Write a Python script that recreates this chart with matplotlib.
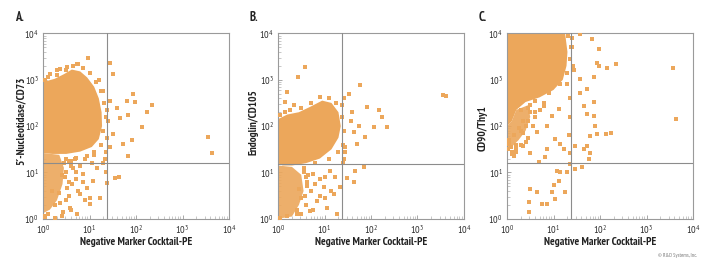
#!/usr/bin/env python3
# flow cytometry dot plots, 3 panels (A, B, C)

import matplotlib
matplotlib.use('Agg')
import matplotlib.pyplot as plt
from matplotlib.patches import Polygon
from matplotlib.ticker import LogLocator, FixedFormatter, NullFormatter
import numpy as np

plt.rcParams['font.family'] = ['PT Sans Narrow', 'DejaVu Sans']
plt.rcParams['mathtext.fontset'] = 'custom'
plt.rcParams['mathtext.rm'] = 'PT Sans Narrow'
plt.rcParams['mathtext.it'] = 'PT Sans Narrow'

dot_color = '#eca75b'
line_color = '#8c8c8c'

panel_titles = ['A.', 'B.', 'C.']
y_labels = ['5\u2032-Nucleotidase/CD73', 'Endoglin/CD105', 'CD90/Thy1']
x_label = 'Negative Marker Cocktail-PE'
tick_labels = ['$10^0$', '$10^1$', '$10^2$', '$10^3$', '$10^4$']
quad_x = [24, 24, 24]
quad_y = [16, 15, 16]

# dense regions (log10 x, log10 y), outlines
a_core = [(0, 2.95), (0.25, 3.02), (0.45, 3.12), (0.62, 3.22), (0.8, 3.18),
          (0.95, 3.05), (1.1, 2.85), (1.2, 2.6), (1.26, 2.3), (1.27, 2.0),
          (1.2, 1.72), (1.05, 1.55), (0.8, 1.45), (0.5, 1.4), (0.2, 1.4), (0, 1.42)]
a_low = [(0, 1.42), (0.35, 1.38), (0.45, 1.1), (0.42, 0.75), (0.3, 0.4),
         (0.15, 0.2), (0, 0.12)]
b_core = [(0, 1.2), (0, 2.15), (0.2, 2.25), (0.45, 2.3), (0.7, 2.42), (0.95, 2.55),
          (1.15, 2.5), (1.3, 2.3), (1.35, 2.0), (1.3, 1.75), (1.15, 1.5),
          (0.9, 1.3), (0.6, 1.2), (0.3, 1.15), (0.1, 1.15)]
b_low = [(0, 1.15), (0.3, 1.12), (0.5, 0.95), (0.55, 0.6), (0.45, 0.3),
         (0.3, 0.05), (0, 0.0)]
c_core = [(0, 4.0), (1.25, 4.0), (1.3, 3.6), (1.28, 3.3), (1.2, 3.0), (1.0, 2.78),
          (0.7, 2.62), (0.4, 2.52), (0.2, 2.35), (0.1, 2.1), (0, 2.0)]
c_low = [(0, 2.0), (0.1, 2.1), (0.2, 2.35), (0.45, 2.45), (0.5, 2.2), (0.4, 1.9),
         (0.25, 1.7), (0.1, 1.55), (0, 1.55)]

# scattered events (log10 x, log10 y)
a_x = [0.97, 1.44, 1.51, 1.94, 2.34, 2.23, 2.12, 1.83, 1.65, 1.91, 1.73, 1.83,
       3.55, 3.63, 1.64, 1.55, 1.37, 1.23, 1.01, 0.73, 0.58, 0.37, 0.04, 1.16,
       0.86, 0.65, 1.08, 0.95, 0.80, 0.52, 1.44, 1.51, 1.44, 1.59, 1.98, 1.81,
       0.73, 0.52, 0.15, 0.37, 1.33, 1.30, 1.36, 1.28, 1.20, 0.60, 0.48, 0.90,
       1.10, 0.70, 0.25, 0.55, 0.42, 1.00, 1.35, 0.30,
       0.10, 0.30, 0.50, 0.65, 0.85, 1.00, 1.15, 1.25, 1.32, 1.35, 1.30, 1.25,
       1.10, 0.95, 0.70, 0.55, 0.45, 0.50, 0.55, 0.35, 0.25, 0.10, 0.20, 0.40,
       1.38, 1.38, 1.40, 0.05, 0.30, 0.75,
       0.50, 0.60, 0.70, 0.62, 0.75, 0.85, 0.90, 0.50, 0.60, 0.40, 0.05, 0.68,
       0.80, 1.05]
a_y = [3.48, 3.37, 3.13, 2.70, 2.46, 2.30, 1.97, 2.23, 2.18, 1.69, 1.61, 1.36,
       1.77, 1.41, 0.91, 0.88, 0.78, 0.45, 0.32, 0.11, 0.24, 0.35, 0.06, 1.10,
       0.97, 1.10, 0.82, 0.67, 0.54, 0.67, 1.54, 1.84, 2.55, 2.40, 2.51, 2.55,
       3.35, 3.27, 3.13, 3.24, 1.30, 1.20, 1.02, 2.75, 3.00, 1.25, 0.90, 1.28,
       1.38, 0.85, 0.02, 0.50, 0.15, 0.45, 1.45, 3.20,
       3.05, 3.10, 3.20, 3.30, 3.25, 3.15, 2.95, 2.75, 2.50, 2.20, 1.90, 1.60,
       1.45, 1.35, 1.32, 1.25, 1.20, 1.00, 0.80, 0.55, 0.30, 0.10, 0.60, 0.95,
       2.35, 1.75, 2.10, 3.00, 3.20, 3.35,
       1.30, 1.15, 1.00, 0.75, 0.60, 0.80, 0.40, 0.40, 0.20, 0.05, 0.03, 1.30,
       1.15, 1.20]
b_x = [0.58, 0.44, 0.19, 0.15, 1.76, 1.52, 3.61, 3.54, 1.92, 2.17, 2.24, 2.35,
       2.06, 1.88, 1.70, 1.56, 1.63, 1.84, 1.66, 1.63, 1.49, 1.34, 1.20, 0.98,
       0.84, 0.69, 1.05, 1.27, 0.76, 1.12, 1.42, 1.38, 1.45, 1.60, 1.75, 0.90,
       0.62, 1.00, 0.40, 0.55, 1.22, 1.40,
       0.05, 0.25, 0.50, 0.70, 0.90, 1.10, 1.25, 1.38, 1.42, 1.40, 1.30, 1.10,
       0.80, 0.55, 0.60, 0.62, 0.50, 0.40, 0.20, 0.05, 1.45, 1.43, 1.42, 0.35,
       0.15,
       0.55, 0.65, 0.70, 0.80, 0.90, 0.60, 0.50, 0.75, 1.00, 1.15, 0.58, 0.45]
b_y = [3.27, 3.06, 2.73, 2.51, 2.89, 2.70, 2.66, 2.67, 2.41, 2.34, 2.19, 1.99,
       1.99, 1.76, 1.61, 2.12, 1.87, 1.11, 1.04, 0.79, 0.89, 0.68, 0.53, 0.68,
       0.39, 0.17, 0.24, 0.10, 0.97, 1.04, 1.30, 2.45, 1.55, 2.30, 2.00, 0.85,
       0.80, 0.45, 0.10, 1.00, 0.90, 1.20,
       2.25, 2.35, 2.40, 2.50, 2.62, 2.60, 2.50, 2.20, 1.90, 1.60, 1.45, 1.30,
       1.20, 1.10, 0.90, 0.70, 0.45, 0.20, 0.05, 0.02, 1.45, 1.30, 2.60, 2.45,
       2.30,
       1.10, 0.95, 0.60, 0.75, 0.50, 0.30, 0.10, 0.20, 0.90, 0.60, 0.50, 0.65]
c_x = [1.58, 1.83, 1.97, 1.94, 1.97, 2.16, 2.34, 3.56, 3.63, 1.87, 1.72, 1.58,
       1.58, 1.65, 1.87, 1.87, 1.72, 1.90, 1.94, 2.12, 2.23, 1.79, 1.72, 1.65,
       1.79, 1.76, 1.62, 1.47, 1.47, 1.36, 1.36, 1.29, 1.15, 1.07, 1.11, 1.00,
       0.97, 1.04, 0.75, 0.86, 0.64, 0.50, 0.48, 0.48, 1.25, 0.68, 0.82, 0.86,
       1.04, 1.15, 1.22, 0.97, 1.11, 0.79, 0.86, 0.64, 0.35, 0.50, 1.36, 1.36,
       1.34, 1.30, 0.45, 0.60, 0.30, 0.15, 0.05, 0.40, 0.20, 1.40, 1.45,
       1.32, 1.38, 1.35, 1.30, 1.15, 0.90, 0.60, 0.45, 0.30, 0.35, 0.25, 0.15,
       0.08, 0.02, 1.40, 1.42, 0.50, 0.40, 0.20, 0.10,
       0.10, 0.20, 0.30, 0.45, 0.55, 0.60, 0.70, 0.80, 0.50, 0.35, 0.15, 0.05]
c_y = [3.98, 3.87, 3.66, 3.37, 3.30, 3.26, 3.33, 3.26, 2.15, 3.05, 2.80, 3.01,
       2.72, 2.44, 2.51, 2.22, 2.26, 2.01, 1.83, 1.83, 1.86, 1.79, 1.58, 1.51,
       1.43, 1.29, 1.11, 1.08, 1.58, 1.43, 1.18, 1.00, 1.00, 1.04, 0.82, 0.72,
       0.57, 0.43, 0.32, 0.32, 0.57, 0.65, 0.37, 0.14, 0.57, 1.22, 1.33, 1.51,
       1.72, 1.61, 1.51, 2.22, 2.37, 2.44, 2.01, 1.87, 1.58, 1.43, 2.60, 2.20,
       1.80, 2.90, 2.10, 2.30, 1.90, 1.40, 1.70, 1.65, 1.50, 3.70, 3.20,
       3.95, 3.70, 3.45, 3.15, 2.90, 2.72, 2.55, 2.40, 2.35, 2.10, 1.95, 1.80,
       1.55, 1.50, 3.90, 3.30, 2.30, 2.00, 1.60, 1.45,
       1.40, 1.45, 1.60, 1.75, 2.00, 2.20, 2.35, 2.50, 2.45, 1.85, 1.35, 1.62]

cores = [a_core, b_core, c_core]
lows = [a_low, b_low, c_low]
xs = [a_x, b_x, c_x]
ys = [a_y, b_y, c_y]

fig = plt.figure(figsize=(7.08, 2.63), dpi=100)
lefts = [43 / 708, 278 / 708, 507 / 708]
label_x = [21 / 708, 253 / 708, 482 / 708]
label_y = [0.54, 0.535, 0.513]

for i in range(3):
    ax = fig.add_axes([lefts[i], 0.168, 186 / 708, 0.705])
    ax.set_xscale('log')
    ax.set_yscale('log')
    ax.set_xlim(1, 1e4)
    ax.set_ylim(1, 1e4)

    core = np.power(10.0, np.array(cores[i]))
    low = np.power(10.0, np.array(lows[i]))
    ax.add_patch(Polygon(low, closed=True, facecolor=dot_color, edgecolor='none',
                         alpha=0.9, zorder=2))
    ax.add_patch(Polygon(core, closed=True, facecolor=dot_color, edgecolor='none',
                         zorder=2))
    ax.scatter(np.power(10.0, xs[i]), np.power(10.0, ys[i]), s=5.5, marker='s',
               color=dot_color, linewidths=0, zorder=3, clip_on=True)

    ax.axvline(quad_x[i], color=line_color, lw=0.8, zorder=4)
    ax.axhline(quad_y[i], color=line_color, lw=0.8, zorder=4)

    for s in ax.spines.values():
        s.set_color('#9a9a9a')
        s.set_linewidth(0.8)

    ax.set_xticks([1, 10, 100, 1000, 10000])
    ax.set_yticks([1, 10, 100, 1000, 10000])
    ax.xaxis.set_minor_locator(LogLocator(base=10, subs=np.arange(2, 10), numticks=10))
    ax.yaxis.set_minor_locator(LogLocator(base=10, subs=np.arange(2, 10), numticks=10))
    ax.xaxis.set_major_formatter(FixedFormatter(tick_labels))
    ax.yaxis.set_major_formatter(FixedFormatter(tick_labels))
    ax.xaxis.set_minor_formatter(NullFormatter())
    ax.yaxis.set_minor_formatter(NullFormatter())
    ax.tick_params(which='major', direction='in', length=3, width=0.6,
                   color='#9a9a9a', labelsize=7.5, labelcolor='#333333', pad=3)
    ax.tick_params(which='minor', direction='in', length=2, width=0.5,
                   color='#b0b0b0')

    ax.set_xlabel(x_label, fontsize=8, fontweight='bold', color='#222222', labelpad=1)
    fig.text(label_x[i], label_y[i], y_labels[i], rotation=90, ha='center', va='center',
             fontsize=8, fontweight='bold', color='#222222')
    fig.text(lefts[i] - 28 / 708, 0.935, panel_titles[i], fontsize=9,
             fontweight='bold', color='#222222', ha='left', va='center')

fig.text(0.985, 0.02, '\u00a9 R&D Systems, Inc.', fontsize=4, color='#777777',
         ha='right', va='bottom')

fig.savefig('out.png', dpi=100)
